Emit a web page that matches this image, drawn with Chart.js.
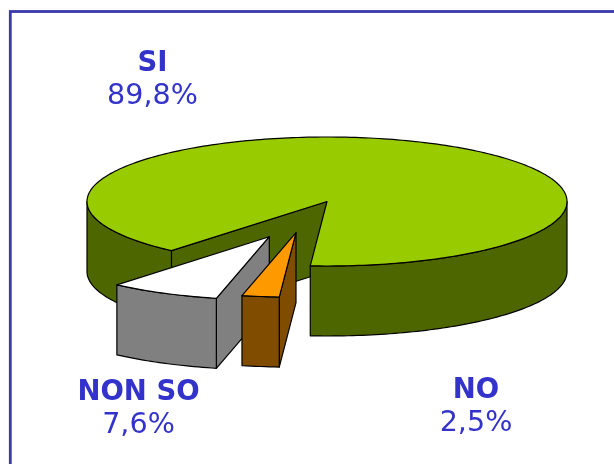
<!DOCTYPE html>
<html>
<head>
<meta charset="utf-8">
<title>Pie</title>
<style>
  html, body { margin: 0; padding: 0; background: #fff; overflow: hidden; }
  canvas { display: block; }
</style>
<script src="https://cdn.jsdelivr.net/npm/chart.js@4"></script>
</head>
<body>
<canvas id="myChart" width="614" height="464"></canvas>
<script>
(function () {
    "use strict";

    // data
    const categories = ['NO', 'NON SO', 'SI'];
    const percentages = [2.5, 7.6, 89.8];

    // colours per slice
    const topColors = ['#FF9900', '#FFFFFF', '#99CC00'];
    const wallColors = ['#804D00', '#808080', '#4D6600'];
    const inkColor = '#3333CC';
    const frameColor = '#3A3AAA';

    // projected pie: ellipse on screen + extrusion height
    const view = { cx: 327, cy: 201.5, rx: 240, ry: 64.5, depth: 70 };
    // exploded slices, screen px
    const explode = [
        { dx: -31, dy: 31.2, radius: 1 },
        { dx: -57.7, dy: 35.2, radius: 0.98 },
        { dx: 0, dy: 0, radius: 1 }
    ];
    const labelSpots = [
        { x: 476, y1: 398, y2: 431 },
        { x: 138.5, y1: 400, y2: 433 },
        { x: 152.5, y1: 71, y2: 104 }
    ];

    var base = null;

    function slices(chart) {
        return chart.getDatasetMeta(0).data;
    }

    // slice-space angle -> screen point
    function pt(i, angle, r, drop) {
        var e = explode[i];
        return {
            x: view.cx + e.dx + Math.cos(angle) * r * view.rx,
            y: view.cy + e.dy + Math.sin(angle) * r * view.ry + (drop || 0)
        };
    }

    function rimPath(ctx, i, from, to, drop) {
        var steps = Math.max(2, Math.ceil(Math.abs(to - from) / 0.02));
        for (var s = 0; s <= steps; s++) {
            var p = pt(i, from + (to - from) * s / steps, explode[i].radius, drop);
            ctx.lineTo(p.x, p.y);
        }
    }

    function shape(ctx, fill) {
        ctx.closePath();
        if (fill) {
            ctx.fillStyle = fill;
            ctx.fill();
        }
        ctx.strokeStyle = '#000';
        ctx.lineWidth = 1.2;
        ctx.stroke();
    }

    function drawCutFace(ctx, i, angle) {
        var r = explode[i].radius;
        var apex = pt(i, 0, 0);
        var rim = pt(i, angle, r);
        ctx.beginPath();
        ctx.moveTo(apex.x, apex.y);
        ctx.lineTo(rim.x, rim.y);
        ctx.lineTo(rim.x, rim.y + view.depth);
        ctx.lineTo(apex.x, apex.y + view.depth);
        shape(ctx, wallColors[i]);
    }

    function drawRimWall(ctx, i, from, to) {
        ctx.beginPath();
        rimPath(ctx, i, from, to, 0);
        rimPath(ctx, i, to, from, view.depth);
        shape(ctx, wallColors[i]);
    }

    function drawWalls(ctx, i, el) {
        var start = el.startAngle;
        var end = el.endAngle;
        // a cut face only shows when it looks towards the viewer
        if (Math.cos(start) < 0) drawCutFace(ctx, i, start);
        if (Math.cos(end) > 0) drawCutFace(ctx, i, end);
        // outer wall is visible on the front half of the ellipse
        for (var k = -1; k <= 2; k++) {
            var from = Math.max(start, k * 2 * Math.PI);
            var to = Math.min(end, k * 2 * Math.PI + Math.PI);
            if (to > from) drawRimWall(ctx, i, from, to);
        }
    }

    const pie3d = {
        id: 'pie3d',
        afterDatasetsUpdate: function (chart) {
            var arcs = slices(chart);
            base = { x: arcs[0].x, y: arcs[0].y, r: arcs[0].outerRadius };
            arcs.forEach(function (el, i) {
                el.x = base.x + explode[i].dx * base.r / view.rx;
                el.y = base.y + explode[i].dy * base.r / view.ry;
                el.outerRadius = base.r * explode[i].radius;
            });
        },
        beforeDraw: function (chart) {
            var ctx = chart.ctx;
            ctx.save();
            ctx.fillStyle = '#fff';
            ctx.fillRect(0, 0, chart.width, chart.height);
            ctx.strokeStyle = frameColor;
            ctx.lineWidth = 2.8;
            ctx.strokeRect(10.3, 11.5, 800, 800);
            ctx.restore();
        },
        beforeDatasetsDraw: function (chart) {
            var ctx = chart.ctx;
            var arcs = slices(chart);
            ctx.save();
            ctx.lineJoin = 'round';
            // back slice first, the exploded ones sit in front of it
            for (var i = arcs.length - 1; i >= 0; i--) {
                drawWalls(ctx, i, arcs[i]);
            }
            ctx.restore();
            // tops are drawn by the library, squashed into the ellipse
            ctx.save();
            ctx.translate(view.cx, view.cy);
            ctx.scale(view.rx / base.r, view.ry / base.r);
            ctx.translate(-base.x, -base.y);
        },
        afterDatasetsDraw: function (chart) {
            var ctx = chart.ctx;
            ctx.restore();
            ctx.save();
            ctx.lineJoin = 'round';
            slices(chart).forEach(function (el, i) {
                var apex = pt(i, 0, 0);
                ctx.beginPath();
                ctx.moveTo(apex.x, apex.y);
                rimPath(ctx, i, el.startAngle, el.endAngle, 0);
                shape(ctx, null);
            });
            ctx.restore();
        },
        afterDraw: function (chart) {
            var ctx = chart.ctx;
            ctx.save();
            ctx.fillStyle = inkColor;
            ctx.textAlign = 'center';
            ctx.textBaseline = 'alphabetic';
            categories.forEach(function (name, i) {
                var spot = labelSpots[i];
                ctx.font = 'bold 27.5px "DejaVu Sans"';
                ctx.fillText(name, spot.x, spot.y1);
                ctx.font = '28.6px "DejaVu Sans"';
                ctx.fillText(percentages[i].toFixed(1).replace('.', ',') + '%', spot.x, spot.y2);
            });
            ctx.restore();
        }
    };

    new Chart(document.getElementById('myChart').getContext('2d'), {
        type: 'pie',
        data: {
            labels: categories,
            datasets: [{
                data: percentages,
                backgroundColor: topColors,
                borderWidth: 0,
                clip: false
            }]
        },
        options: {
            responsive: false,
            animation: false,
            rotation: 184,
            plugins: {
                legend: { display: false },
                tooltip: { enabled: false }
            }
        },
        plugins: [pie3d]
    });
})();
</script>
</body>
</html>
